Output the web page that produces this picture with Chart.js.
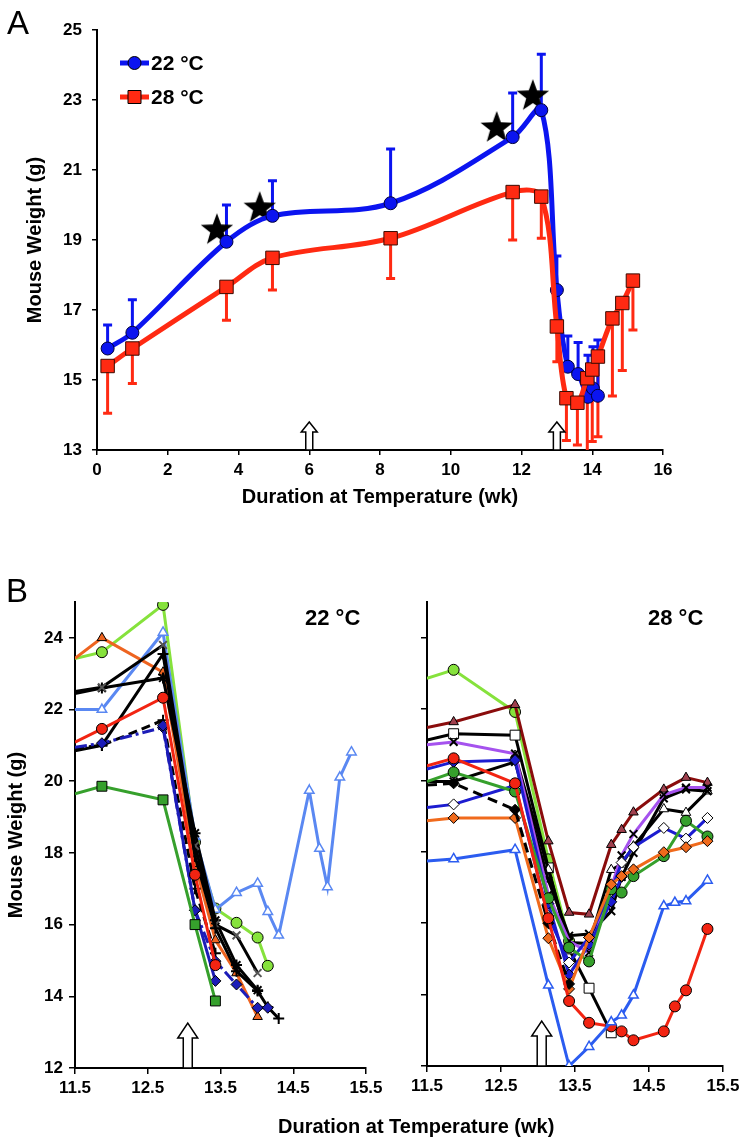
<!DOCTYPE html>
<html>
<head>
<meta charset="utf-8">
<script src="https://cdn.jsdelivr.net/npm/chart.js@4.4.0/dist/chart.umd.min.js"></script>
<style>
  body { margin: 0; background: #fff; }
  #wrap { position: relative; width: 745px; height: 1140px; font-family: "Liberation Sans", Arial, sans-serif; }
  canvas { position: absolute; }
  .lbl { position: absolute; color: #000; white-space: nowrap; line-height: 1; }
</style>
</head>
<body>
<div id="wrap">
  <canvas id="chartA" width="745" height="530" style="left:0;top:0"></canvas>
  <canvas id="chartB22" width="400" height="580" style="left:0;top:560px"></canvas>
  <canvas id="chartB28" width="373" height="580" style="left:372px;top:560px"></canvas>
  <div class="lbl" style="left:7px;top:6px;font-size:33px;">A</div>
  <div class="lbl" style="left:6px;top:574px;font-size:33px;">B</div>
  <div class="lbl" style="left:305px;top:607px;font-size:22px;font-weight:bold;">22 °C</div>
  <div class="lbl" style="left:648px;top:607px;font-size:22px;font-weight:bold;">28 °C</div>
  <div class="lbl" style="left:278px;top:1116px;font-size:20px;font-weight:bold;">Duration at Temperature (wk)</div>
</div>
<script>
// ---- Panel A: group means ----
const weeksA22 = [0.3, 1.0, 3.66, 4.96, 8.3, 11.75, 12.56, 13.0, 13.31, 13.6, 13.88, 14.02, 14.16];
const meanA22  = [15.9, 16.35, 18.95, 19.69, 20.05, 21.94, 22.71, 17.57, 15.38, 15.17, 14.52, 14.76, 14.55];
const errA22   = [16.57, 17.29, 20.0, 20.69, 21.6, 23.2, 24.31, 18.54, 16.26, 16.07, 15.71, 15.95, 16.14];

const weeksA28 = [0.3, 1.0, 3.66, 4.96, 8.3, 11.75, 12.56, 13.0, 13.27, 13.58, 13.86, 14.0, 14.16, 14.57, 14.85, 15.15];
const meanA28  = [15.4, 15.9, 17.66, 18.49, 19.05, 20.37, 20.24, 16.53, 14.48, 14.35, 15.05, 15.3, 15.67, 16.76, 17.2, 17.84];
const errA28   = [14.05, 14.9, 16.71, 17.57, 17.9, 19.0, 19.05, 15.52, 13.27, 13.14, 12.9, 13.24, 13.38, 14.54, 15.27, 16.43];

const starWeeks   = [3.39, 4.6, 11.3, 12.32];
const starWeights = [19.31, 19.94, 22.23, 23.14];
const arrowWeeksA = [6, 13];
const xTicksA = [0, 2, 4, 6, 8, 10, 12, 14, 16];
const yTicksA = [13, 15, 17, 19, 21, 23, 25];

// ---- Panel B, 22 °C: individual mice ----
const weeksB22 = [11.5, 11.87, 12.71, 13.15, 13.43, 13.72, 14.01, 14.15, 14.3, 14.72, 14.86, 14.97, 15.14, 15.3];
const b22Lime      = [23.42, 23.6, 24.92, 18.3, 16.45, 16.05, 15.64, 14.85, null, null, null, null, null, null];
const b22Orange    = [23.43, 24.0, 23.04, 17.7, 15.57, 14.65, 13.43, null, null, null, null, null, null, null];
const b22SkyBlue   = [22.0, 22.0, 24.15, 18.45, 16.42, 16.89, 17.15, 16.36, 15.7, 19.74, 18.12, 17.05, 20.11, 20.81];
const b22Red       = [21.09, 21.46, 22.33, 17.39, 14.87, null, null, null, null, null, null, null, null, null];
const b22Green     = [19.65, 19.86, 19.48, 16.0, 13.87, null, null, null, null, null, null, null, null, null];
const b22BlackStar = [22.45, 22.6, 22.88, 18.55, 16.12, 14.87, 14.17, null, null, null, null, null, null, null];
const b22BlackX    = [22.5, 22.62, 23.8, 18.2, 16.0, 15.7, 14.65, null, null, null, null, null, null, null];
const b22BlackPlus = [20.85, 21.0, 23.55, 17.9, 15.9, 14.7, 14.15, 13.7, 13.38, null, null, null, null, null];
const b22BlueDot   = [20.95, 21.06, 21.5, 16.4, 14.98, 14.33, 13.68, 13.68, null, null, null, null, null, null];
const b22Blue      = [null, null, 21.55, 16.4, 14.43, null, null, null, null, null, null, null, null, null];
const b22BlackDash = [20.92, 21.0, 21.7, 17.0, 15.2, null, null, null, null, null, null, null, null, null];

// ---- Panel B, 28 °C: individual mice ----
const weeksB28 = [11.5, 11.86, 12.69, 13.14, 13.42, 13.69, 13.99, 14.13, 14.29, 14.7, 14.85, 15.0, 15.29];
const b28Lime      = [22.86, 23.1, 21.92, 17.79, 15.5, null, null, null, null, null, null, null, null];
const b28Maroon    = [21.48, 21.64, 22.12, 18.3, 16.3, 16.25, 18.2, 18.62, 19.11, 19.75, null, 20.08, 19.94];
const b28BlackSq   = [21.13, 21.31, 21.27, 17.55, 15.28, 14.18, 12.93, null, null, null, null, null, null];
const b28Purple    = [21.0, 21.08, 20.75, 16.8, 15.5, 15.18, 17.0, 17.9, 18.5, 19.6, null, 19.8, 19.8];
const b28Red       = [20.41, 20.62, 19.92, 16.14, 13.82, 13.21, 13.11, 12.97, 12.72, 12.97, 13.67, 14.12, 15.84];
const b28Blue      = [20.32, 20.52, 20.57, 16.55, 14.56, 15.4, 16.6, 17.3, null, null, null, null, null];
const b28BlueOpen  = [19.24, 19.33, 19.86, 16.2, 14.9, 15.6, 16.9, 17.7, 18.13, 18.67, null, 18.37, 18.95];
const b28Green     = [19.97, 20.23, 19.69, 16.7, 15.32, 14.93, 16.95, 16.86, 17.32, 17.88, null, 18.87, 18.43];
const b28BlackDash = [19.87, 19.92, 19.18, 16.0, 14.3, null, null, null, null, null, null, null, null];
const b28BlackX    = [19.97, 19.97, 20.52, 17.2, 15.65, 15.7, 16.34, 17.3, 17.97, 19.5, null, 19.75, 19.7];
const b28BlackTri  = [null, null, 20.7, 17.5, 15.46, 15.43, 17.5, 17.65, 18.16, 19.2, null, 19.1, 19.7];
const b28Orange    = [18.87, 18.95, 18.95, 15.58, 14.16, 15.6, 17.09, 17.32, 17.51, 17.99, null, 18.13, 18.3];
const b28RoyalTri  = [17.74, 17.8, 18.06, 14.26, 12.0, 12.54, 13.23, 13.42, 13.98, 16.48, 16.58, 16.62, 17.2];

const arrowWeeksB = [13.05];
const xTicksB = [11.5, 12.5, 13.5, 14.5, 15.5];
const yTicksB = [12, 14, 16, 18, 20, 22, 24];

Chart.defaults.font.family = '"Liberation Sans", Arial, sans-serif';
Chart.defaults.font.weight = 'bold';
Chart.defaults.font.size = 17;
Chart.defaults.color = '#000';

function pts(xs, ys) {
  return xs.map((x, i) => ({ x: x, y: ys[i] })).filter(p => p.y !== null && p.y !== undefined);
}

// filled star used as a point style
const starImg = document.createElement('canvas');
starImg.width = 36; starImg.height = 36;
(function () {
  const c = starImg.getContext('2d');
  c.beginPath();
  for (let i = 0; i < 10; i++) {
    const r = i % 2 === 0 ? 17 : 7;
    const a = -Math.PI / 2 + i * Math.PI / 5;
    c.lineTo(18 + r * Math.cos(a), 19 + r * Math.sin(a));
  }
  c.closePath();
  c.fillStyle = '#000';
  c.fill();
})();

const errorBars = {
  id: 'errorBars',
  beforeDatasetsDraw(chart) {
    const ctx = chart.ctx, a = chart.chartArea;
    ctx.save();
    ctx.beginPath();
    ctx.rect(a.left, a.top - 20, a.right - a.left, a.bottom - a.top + 20);
    ctx.clip();
    chart.data.datasets.forEach(ds => {
      if (!ds.errorTo) return;
      const xs = chart.scales.x, ys = chart.scales.y;
      ctx.strokeStyle = ds.borderColor;
      ctx.lineWidth = 3;
      ds.data.forEach((p, i) => {
        const x = xs.getPixelForValue(p.x);
        const y0 = ys.getPixelForValue(p.y);
        const y1 = ys.getPixelForValue(ds.errorTo[i]);
        ctx.beginPath();
        ctx.moveTo(x, y0); ctx.lineTo(x, y1);
        ctx.moveTo(x - 4.5, y1); ctx.lineTo(x + 4.5, y1);
        ctx.stroke();
      });
    });
    ctx.restore();
  }
};

function arrowPlugin(weeks, h, hw, sw, hh) {
  return {
    id: 'arrows',
    afterDatasetsDraw(chart) {
      const ctx = chart.ctx, b = chart.chartArea.bottom;
      weeks.forEach(w => {
        const x = chart.scales.x.getPixelForValue(w);
        ctx.save();
        ctx.beginPath();
        ctx.moveTo(x - sw / 2, b);
        ctx.lineTo(x - sw / 2, b - h + hh);
        ctx.lineTo(x - hw / 2, b - h + hh);
        ctx.lineTo(x, b - h);
        ctx.lineTo(x + hw / 2, b - h + hh);
        ctx.lineTo(x + sw / 2, b - h + hh);
        ctx.lineTo(x + sw / 2, b);
        ctx.closePath();
        ctx.fillStyle = '#fff';
        ctx.fill();
        ctx.strokeStyle = '#000';
        ctx.lineWidth = 1.5;
        ctx.stroke();
        ctx.restore();
      });
    }
  };
}

const legendA = {
  id: 'legendA',
  afterDraw(chart) {
    const ctx = chart.ctx;
    const rows = [
      { ds: chart.data.datasets[1], label: '22 °C', y: 63 },
      { ds: chart.data.datasets[0], label: '28 °C', y: 97 }
    ];
    rows.forEach(r => {
      ctx.save();
      ctx.strokeStyle = r.ds.borderColor;
      ctx.lineWidth = 5;
      ctx.beginPath(); ctx.moveTo(120, r.y); ctx.lineTo(149, r.y); ctx.stroke();
      ctx.fillStyle = r.ds.pointBackgroundColor;
      ctx.strokeStyle = '#000';
      ctx.lineWidth = 1;
      ctx.beginPath();
      if (r.ds.pointStyle === 'rect') ctx.rect(128, r.y - 6.5, 13, 13);
      else ctx.arc(134.5, r.y, 6.5, 0, Math.PI * 2);
      ctx.fill(); ctx.stroke();
      ctx.fillStyle = '#000';
      ctx.font = 'bold 21px "Liberation Sans", Arial, sans-serif';
      ctx.textBaseline = 'middle';
      ctx.fillText(r.label, 151, r.y + 1);
      ctx.restore();
    });
  }
};

function axis(min, max, tickVals, opts) {
  const o = Object.assign({ tickLen: 6, pad: 6, labels: true, fitSize: 0, title: null }, opts);
  const s = {
    type: 'linear', min: min, max: max,
    afterBuildTicks: sc => { sc.ticks = tickVals.map(v => ({ value: v })); },
    grid: { display: true, drawOnChartArea: false, drawTicks: true, tickLength: o.tickLen, color: '#000', lineWidth: 1.5 },
    border: { display: true, color: '#000', width: 2 },
    ticks: { display: o.labels, padding: o.pad, maxRotation: 0, autoSkip: false, font: { size: 17, weight: 'bold' } },
    afterFit: sc => { if (sc.isHorizontal()) sc.height = o.fitSize; else sc.width = o.fitSize; }
  };
  if (o.title) s.title = o.title;
  return s;
}

// ---------- Panel A ----------
new Chart(document.getElementById('chartA'), {
  type: 'line',
  data: {
    datasets: [
      {
        label: '28 °C', data: pts(weeksA28, meanA28), errorTo: errA28,
        borderColor: '#ff2a12', borderWidth: 5, tension: 0.35,
        pointStyle: 'rect', pointRadius: 9.5, pointBackgroundColor: '#ff2a12',
        pointBorderColor: '#3a0a00', pointBorderWidth: 1
      },
      {
        label: '22 °C', data: pts(weeksA22, meanA22), errorTo: errA22,
        borderColor: '#0b14f0', borderWidth: 5, tension: 0.35,
        pointStyle: 'circle', pointRadius: 6.5, pointBackgroundColor: '#0b14f0',
        pointBorderColor: '#00003a', pointBorderWidth: 1
      },
      {
        label: 'stars', data: pts(starWeeks, starWeights), showLine: false,
        pointStyle: starImg, pointRadius: 17
      }
    ]
  },
  options: {
    responsive: false, animation: false,
    layout: { autoPadding: false, padding: { left: 0, top: 30, right: 82, bottom: 0 } },
    plugins: { legend: { display: false }, tooltip: { enabled: false } },
    scales: {
      x: axis(0, 16, xTicksA, { tickLen: 5, pad: 5, fitSize: 80,
        title: { display: true, text: 'Duration at Temperature (wk)', font: { size: 20, weight: 'bold' }, padding: { top: 0, bottom: 21 } } }),
      y: axis(13, 25, yTicksA, { tickLen: 5, pad: 10, fitSize: 97,
        title: { display: true, text: 'Mouse Weight (g)', font: { size: 20, weight: 'bold' }, padding: { top: 23, bottom: 0 } } })
    }
  },
  plugins: [errorBars, arrowPlugin(arrowWeeksA, 28, 16, 7, 10), legendA]
});

// ---------- Panel B helpers ----------
function mouse(xs, ys, color, style, fill, extra) {
  return Object.assign({
    data: pts(xs, ys),
    borderColor: color, borderWidth: 3, tension: 0,
    pointStyle: style, pointBackgroundColor: fill,
    pointBorderColor: '#000', pointBorderWidth: 1,
    pointRadius: c => (c.raw && c.raw.x <= 11.5 ? 0 : 5.5)
  }, extra || {});
}

function panelB(id, weeks, series, showY, pad, fitY) {
  new Chart(document.getElementById(id), {
    type: 'line',
    data: { datasets: series },
    options: {
      responsive: false, animation: false,
      layout: { autoPadding: false, padding: pad },
      plugins: { legend: { display: false }, tooltip: { enabled: false } },
      scales: {
        x: axis(11.5, 15.5, xTicksB, { tickLen: 6, pad: 4, fitSize: fitY }),
        y: axis(12, 25, yTicksB, { tickLen: 6, pad: 6, labels: showY, fitSize: showY ? 75 : 55,
          title: showY ? { display: true, text: 'Mouse Weight (g)', font: { size: 20, weight: 'bold' }, padding: { top: 4, bottom: 0 } } : { display: false } })
      }
    },
    plugins: [arrowPlugin(arrowWeeksB, 45, 20, 9, 15)]
  });
}

const w22 = weeksB22;
panelB('chartB22', w22, [
  mouse(w22, b22Green, '#36a02c', 'rect', '#36a02c', { pointRadius: c => (c.raw.x <= 11.5 ? 0 : 7) }),
  mouse(w22, b22Red, '#f22412', 'circle', '#f22412'),
  mouse(w22, b22Blue, '#1c1cb8', 'rectRot', '#1c1cb8'),
  mouse(w22, b22BlueDot, '#1c1cb8', 'rectRot', '#1c1cb8', { borderDash: [12, 4, 3, 4] }),
  mouse(w22, b22BlackDash, '#000', 'cross', '#000', { borderDash: [9, 5], pointBorderWidth: 2 }),
  mouse(w22, b22BlackPlus, '#000', 'cross', '#000', { pointBorderWidth: 2 }),
  mouse(w22, b22BlackX, '#000', 'crossRot', '#000', { pointBorderColor: '#555', pointBorderWidth: 2 }),
  mouse(w22, b22BlackStar, '#000', 'star', '#000', { pointBorderWidth: 2 }),
  mouse(w22, b22Orange, '#ee6420', 'triangle', '#ee6420'),
  mouse(w22, b22SkyBlue, '#5a88f2', 'triangle', '#fff', { pointBorderColor: '#5a88f2', pointBorderWidth: 1.5 }),
  mouse(w22, b22Lime, '#86e23c', 'circle', '#86e23c')
], true, { left: 0, top: 42, right: 34, bottom: 0 }, 72);

const w28 = weeksB28;
panelB('chartB28', w28, [
  mouse(w28, b28RoyalTri, '#2b5cf0', 'triangle', '#fff', { pointBorderColor: '#2b5cf0', pointBorderWidth: 1.5 }),
  mouse(w28, b28Red, '#f22412', 'circle', '#f22412'),
  mouse(w28, b28BlackDash, '#000', 'rectRot', '#000', { borderDash: [10, 6] }),
  mouse(w28, b28Orange, '#f06a1c', 'rectRot', '#f06a1c'),
  mouse(w28, b28Green, '#36a02c', 'circle', '#36a02c'),
  mouse(w28, b28BlueOpen, '#1c1cd0', 'rectRot', '#fff'),
  mouse(w28, b28Blue, '#1c1cd0', 'rectRot', '#1c1cd0'),
  mouse(w28, b28Purple, '#a552ee', 'crossRot', '#000', { pointBorderWidth: 2 }),
  mouse(w28, b28BlackX, '#000', 'crossRot', '#000', { pointBorderWidth: 2 }),
  mouse(w28, b28BlackTri, '#000', 'triangle', '#fff'),
  mouse(w28, b28BlackSq, '#000', 'rect', '#fff', { pointRadius: c => (c.raw.x <= 11.5 ? 0 : 7) }),
  mouse(w28, b28Maroon, '#8a0c0c', 'triangle', '#a0404e'),
  mouse(w28, b28Lime, '#86e23c', 'circle', '#86e23c')
], false, { left: 0, top: 42, right: 22, bottom: 0 }, 74);
</script>
</body>
</html>
